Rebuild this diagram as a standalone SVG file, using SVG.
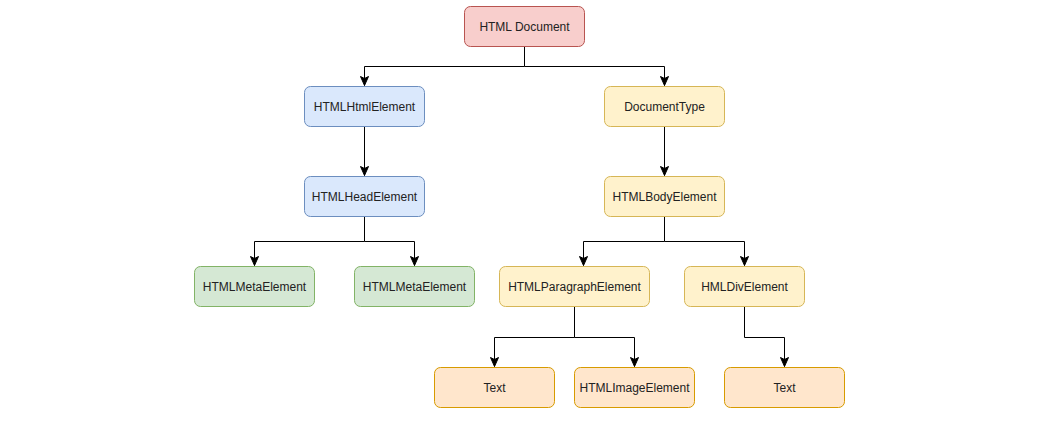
<svg xmlns="http://www.w3.org/2000/svg" width="1052" height="426" viewBox="0 0 1052 426">
<defs>
<style>
.n rect{stroke-width:1}
.red rect{fill:#f8cecc;stroke:#b85450}
.blue rect{fill:#dae8fc;stroke:#6c8ebf}
.yel rect{fill:#fff2cc;stroke:#d6b656}
.grn rect{fill:#d5e8d4;stroke:#82b366}
.org rect{fill:#ffe6cc;stroke:#d79b00}
.n text{font-family:"Liberation Sans",Arial,sans-serif;font-size:12px;fill:#222;text-anchor:middle;dominant-baseline:central}
.e path{fill:none;stroke:#000;stroke-width:1;marker-end:url(#arr)}
</style>
<marker id="arr" markerUnits="userSpaceOnUse" markerWidth="12" markerHeight="10" viewBox="0 0 12 10" refX="10" refY="5" orient="auto">
<path d="M10,5 L1,1 L3,5 L1,9 Z" fill="#000" stroke="#000" stroke-width="1" stroke-linejoin="miter"/>
</marker>
</defs>
<rect width="1052" height="426" fill="#fff"/>
<g id="connectors" class="e">
<path d="M524.5,46.5 V66.5 H364.5 V85.5"/>
<path d="M524.5,66.5 H664.5 V85.5"/>
<path d="M364.5,126.5 V175.5"/>
<path d="M664.5,126.5 V175.5"/>
<path d="M364.5,216.5 V241.5 H254.5 V265.5"/>
<path d="M364.5,241.5 H414.5 V265.5"/>
<path d="M664.5,216.5 V241.5 H583.5 V265.5"/>
<path d="M664.5,241.5 H744.5 V265.5"/>
<path d="M574.5,306.5 V337.5 H494.5 V366.5"/>
<path d="M574.5,337.5 H634.5 V366.5"/>
<path d="M744.5,306.5 V337.5 H784.5 V366.5"/>
</g>
<g id="html-document" class="n red"><rect x="464.5" y="6.5" width="120" height="40" rx="6"/><text x="524.5" y="26.5">HTML Document</text></g>
<g id="html-html-element" class="n blue"><rect x="304.5" y="86.5" width="120" height="40" rx="6"/><text x="364.5" y="106.5">HTMLHtmlElement</text></g>
<g id="document-type" class="n yel"><rect x="604.5" y="86.5" width="120" height="40" rx="6"/><text x="664.5" y="106.5">DocumentType</text></g>
<g id="html-head-element" class="n blue"><rect x="304.5" y="176.5" width="120" height="40" rx="6"/><text x="364.5" y="196.5">HTMLHeadElement</text></g>
<g id="html-body-element" class="n yel"><rect x="604.5" y="176.5" width="120" height="40" rx="6"/><text x="664.5" y="196.5">HTMLBodyElement</text></g>
<g id="html-meta-element-1" class="n grn"><rect x="194.5" y="266.5" width="120" height="40" rx="6"/><text x="254.5" y="286.5">HTMLMetaElement</text></g>
<g id="html-meta-element-2" class="n grn"><rect x="354.5" y="266.5" width="120" height="40" rx="6"/><text x="414.5" y="286.5">HTMLMetaElement</text></g>
<g id="html-paragraph-element" class="n yel"><rect x="499.5" y="266.5" width="150" height="40" rx="6"/><text x="574.5" y="286.5">HTMLParagraphElement</text></g>
<g id="hml-div-element" class="n yel"><rect x="684.5" y="266.5" width="120" height="40" rx="6"/><text x="744.5" y="286.5">HMLDivElement</text></g>
<g id="text-1" class="n org"><rect x="434.5" y="367.5" width="120" height="40" rx="6"/><text x="494.5" y="387.5">Text</text></g>
<g id="html-image-element" class="n org"><rect x="574.5" y="367.5" width="120" height="40" rx="6"/><text x="634.5" y="387.5">HTMLImageElement</text></g>
<g id="text-2" class="n org"><rect x="724.5" y="367.5" width="120" height="40" rx="6"/><text x="784.5" y="387.5">Text</text></g>
</svg>
